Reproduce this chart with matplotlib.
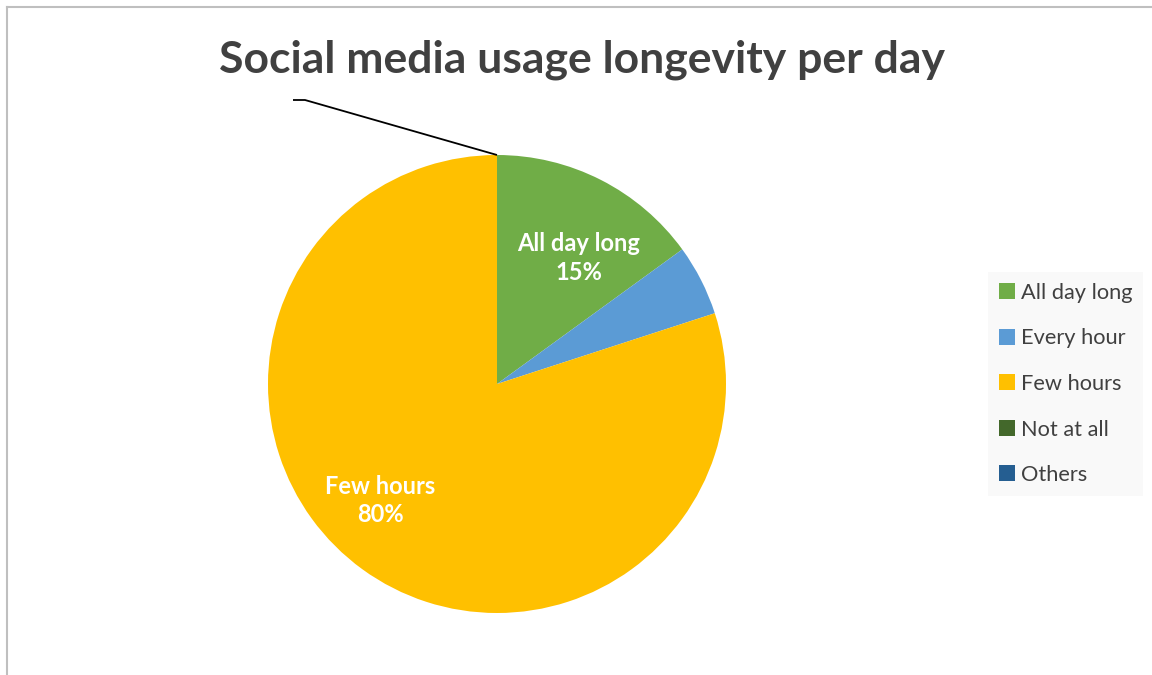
import numpy as np
import matplotlib.pyplot as plt
from matplotlib.patches import Patch
from matplotlib.lines import Line2D

categories = ['All day long', 'Every hour', 'Few hours', 'Not at all', 'Others']
shares = [15, 5, 80, 0, 0]
colors = ['#70AD47', '#5B9BD5', '#FFC000', '#43682B', '#255E91']
title = 'Social media usage longevity per day'

plt.rcParams['font.family'] = ['Lato', 'DejaVu Sans']

W, H = 1152, 675
fig = plt.figure(figsize=(W / 100, H / 100), dpi=100)
ax = fig.add_axes([0, 0, 1, 1])

# outer chart-area border (only top and left edges are visible)
fig.add_artist(Line2D([7 / W, 7 / W], [0, 1 - 7 / H], color='#BFBFBF', lw=1.5))
fig.add_artist(Line2D([7 / W, 1], [1 - 7 / H, 1 - 7 / H], color='#BFBFBF', lw=1.5))

cx, cy, r = 497, H - 384, 229
wedges, _ = ax.pie(shares, colors=colors, startangle=90, counterclock=False,
                   center=(cx, cy), radius=r, frame=True,
                   wedgeprops=dict(linewidth=0))
ax.set_xlim(0, W)
ax.set_ylim(0, H)
ax.axis('off')


def label(i, dist, shift=0):
    # data label inside slice i, placed along its bisector
    w = wedges[i]
    mid = np.deg2rad((w.theta1 + w.theta2) / 2 + shift)
    x = cx + dist * r * np.cos(mid)
    y = cy + dist * r * np.sin(mid)
    ax.text(x, y, f'{categories[i]}\n{shares[i]}%', color='white', fontsize=17,
            fontweight='bold', ha='center', va='center', linespacing=1.3)


label(0, 0.655, -6)
label(2, 0.72, -9)

# leader line for the zero-sized slices at the top of the pie
top = np.deg2rad(wedges[-1].theta2)
sx = cx + r * np.cos(top)
sy = cy + r * np.sin(top)
ax.plot([sx, sx - 192, sx - 204], [sy, sy + 55, sy + 55], color='black', lw=1.3,
        solid_capstyle='butt')

fig.text(582 / W, 1 - 60 / H, title, ha='center', va='center', fontsize=32,
         fontweight='bold', color='#404040')

handles = [Patch(facecolor=c, edgecolor='none') for c in colors]
fig.legend(handles, categories, loc='center left', bbox_to_anchor=(988 / W, 1 - 384 / H),
           frameon=True, facecolor='#F8F8F8', edgecolor='none', fancybox=False,
           fontsize=15.7, labelcolor='#404040', handlelength=0.75, handleheight=0.75,
           handletextpad=0.25, labelspacing=1.17, borderpad=0.5, borderaxespad=0)

fig.savefig('out.png', dpi=100, facecolor='white')
